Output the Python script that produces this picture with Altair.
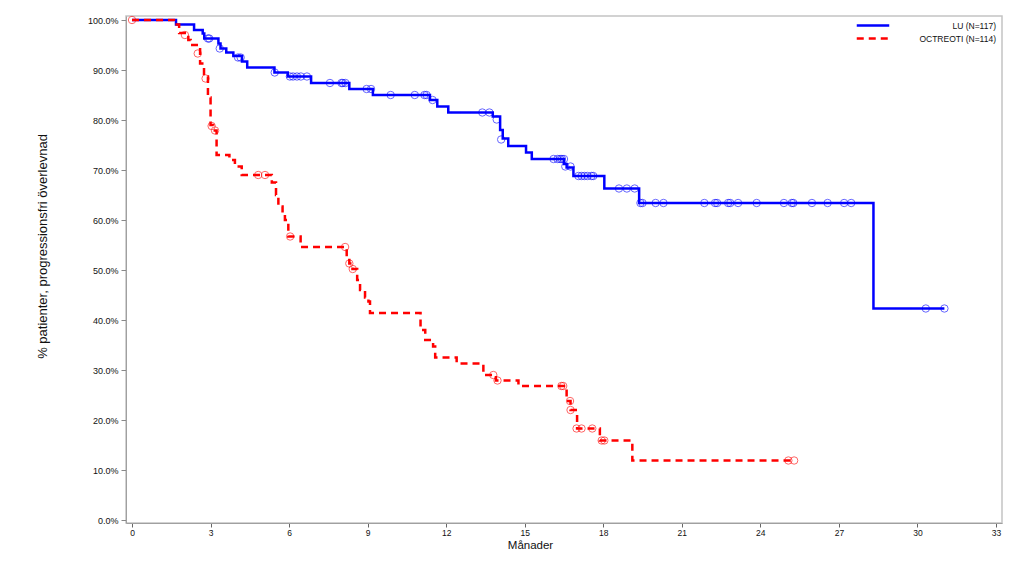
import altair as alt
import pandas as pd

groups = ["LU (N=117)", "OCTREOTI (N=114)"]
colors = ["#0000ff", "#ff0000"]
x_ticks = list(range(0, 34, 3))
y_ticks = list(range(0, 101, 10))

# Kaplan-Meier steps (time in months, survival in %)
lu_time = [0, 1.68, 2.37, 2.7, 2.76, 3.3, 3.38, 3.6, 3.87, 4.2, 4.4, 5.44, 5.95, 6.84,
           8.3, 9.2, 11.38, 11.66, 12.08, 13.78, 14.06, 14.16, 14.37, 15.05, 15.27,
           16.5, 16.6, 16.86, 18.04, 19.37, 28.32, 31.03]
lu_surv = [100, 99.1, 98.0, 97.3, 96.3, 95.3, 94.3, 93.5, 92.8, 91.7, 90.5, 89.5, 88.7, 87.4,
           86.2, 85.0, 84.0, 82.7, 81.5, 80.7, 78.0, 76.3, 74.8, 73.5, 72.2,
           71.2, 70.5, 68.8, 66.3, 63.4, 42.3, 42.3]

oc_time = [0, 1.6, 1.8, 2.15, 2.24, 2.6, 2.75, 2.9, 3.0, 3.1, 3.23, 3.72, 3.93, 4.19,
           5.34, 5.5, 5.59, 5.75, 5.84, 5.97, 6.44, 8.2, 8.3, 8.42, 8.6, 8.71, 8.9,
           9.03, 9.09, 11.02, 11.2, 11.5, 11.58, 12.4, 13.42, 13.9, 14.76, 16.6,
           16.75, 17.0, 17.87, 19.11, 25.29]
oc_surv = [100, 99.1, 97.4, 96.0, 95.0, 91.3, 88.7, 84.5, 79.0, 77.9, 73.0, 72.0, 70.7, 69.0,
           67.5, 65.0, 62.7, 61.0, 60.0, 56.7, 54.6, 52.5, 51.3, 50.2, 48.0, 46.0, 44.5,
           43.7, 41.4, 38.0, 36.0, 34.7, 32.5, 31.3, 29.0, 27.9, 26.8, 23.8,
           22.0, 18.3, 15.9, 11.9, 11.9]

# Censored observations
lu_cens_time = [2.9, 2.95, 3.35, 4.05, 4.15, 5.45, 6.03, 6.15, 6.3, 6.45, 6.68, 7.56, 8.0,
                8.05, 8.15, 8.96, 9.13, 9.88, 10.8, 11.17, 11.25, 11.48, 13.38, 13.65,
                13.93, 14.1, 16.1, 16.25, 16.35, 16.42, 16.5, 16.55, 16.75, 17.05, 17.17,
                17.28, 17.4, 17.55, 17.62, 18.6, 18.9, 19.2, 19.42, 19.5, 20.0, 20.3,
                21.86, 22.27, 22.35, 22.77, 22.85, 23.15, 23.86, 24.9, 25.2, 25.26, 25.97,
                26.57, 27.2, 27.47, 30.32, 31.03]
lu_cens_surv = [96.3, 96.3, 94.3, 92.5, 92.5, 89.5, 88.7, 88.7, 88.7, 88.7, 88.7, 87.4, 87.4,
                87.4, 87.4, 86.2, 86.2, 85.0, 85.0, 85.0, 85.0, 84.0, 81.5, 81.5,
                80.1, 76.1, 72.2, 72.2, 72.2, 72.2, 72.2, 70.7, 70.7, 68.8, 68.8,
                68.8, 68.8, 68.8, 68.8, 66.3, 66.3, 66.3, 63.4, 63.4, 63.4, 63.4,
                63.4, 63.4, 63.4, 63.4, 63.4, 63.4, 63.4, 63.4, 63.4, 63.4, 63.4,
                63.4, 63.4, 63.4, 42.3, 42.3]

oc_cens_time = [0, 2.02, 2.51, 2.81, 3.04, 3.17, 4.82, 5.08, 6.04, 8.14, 8.3, 8.43, 13.8,
                13.96, 16.4, 16.47, 16.73, 16.75, 16.98, 17.17, 17.58, 17.94, 18.04,
                25.07, 25.29]
oc_cens_surv = [100, 97.0, 93.3, 88.3, 78.8, 77.9, 69.0, 69.0, 56.7, 54.6, 51.3, 50.2, 29.0,
                27.9, 26.8, 26.8, 23.8, 22.0, 18.3, 18.3, 18.3, 15.9, 15.9,
                11.9, 11.9]

lines = pd.DataFrame({
    "time": lu_time + oc_time,
    "surv": lu_surv + oc_surv,
    "group": [groups[0]] * len(lu_time) + [groups[1]] * len(oc_time),
})
cens = pd.DataFrame({
    "time": lu_cens_time + oc_cens_time,
    "surv": lu_cens_surv + oc_cens_surv,
    "group": [groups[0]] * len(lu_cens_time) + [groups[1]] * len(oc_cens_time),
})

FONT = "Liberation Sans"

x_enc = alt.X(
    "time:Q",
    scale=alt.Scale(domain=[-0.23, 33.23], nice=False, zero=False),
    axis=alt.Axis(values=x_ticks, title="Månader", grid=False, tickSize=4,
                  labelPadding=1, labelFontSize=8.5, titleFontSize=11.5,
                  titlePadding=3, titleFontWeight="normal", titleX=404,
                  labelColor="#111", titleColor="#111",
                  domainColor="#a0a0a0", tickColor="#666"),
)
y_enc = alt.Y(
    "surv:Q",
    scale=alt.Scale(domain=[-0.6, 100.8], nice=False, zero=False),
    axis=alt.Axis(values=y_ticks, labelExpr="format(datum.value, '.1f') + '%'",
                  title="% patienter, progressionsfri överlevnad", grid=False,
                  tickSize=5, labelPadding=3, labelFontSize=9, titleFontSize=13,
                  titlePadding=38, titleFontWeight="normal", titleY=230,
                  labelColor="#111", titleColor="#111",
                  domainColor="#a0a0a0", tickColor="#888"),
)

# a long horizontal stroke drawn inside a 13px legend cell
legend_props = dict(title=None, orient="none", legendX=739, legendY=1.5,
                    symbolType="M-2.5,0H2.5", symbolSize=169, symbolStrokeWidth=2.5,
                    labelAlign="right", labelOffset=115, labelFont=FONT,
                    labelFontSize=8.5, labelColor="#111", rowPadding=0, padding=0)

color_scale = alt.Scale(domain=groups, range=colors)

line_layer = alt.Chart(lines).mark_line(interpolate="step-after", strokeWidth=2.5).encode(
    x=x_enc,
    y=y_enc,
    color=alt.Color("group:N", scale=color_scale, legend=alt.Legend(**legend_props)),
    strokeDash=alt.StrokeDash("group:N", scale=alt.Scale(domain=groups, range=[[1, 0], [7, 5]]),
                              legend=alt.Legend(**legend_props)),
    order=alt.Order("time:Q"),
)

point_layer = alt.Chart(cens).mark_point(shape="circle", filled=False, size=55,
                                          strokeWidth=1, opacity=0.6).encode(
    x="time:Q",
    y="surv:Q",
    color=alt.Color("group:N", scale=color_scale, legend=None),
)

chart = alt.layer(line_layer, point_layer).properties(
    width=876, height=507,
    autosize=alt.AutoSizeParams(type="none"),
    padding={"left": 118, "top": 8, "right": 8, "bottom": 40},
).configure(font=FONT).configure_view(stroke="#c4c4c4", strokeWidth=1.5)

chart.save("out.html", embed_options={"renderer": "svg", "actions": False})
